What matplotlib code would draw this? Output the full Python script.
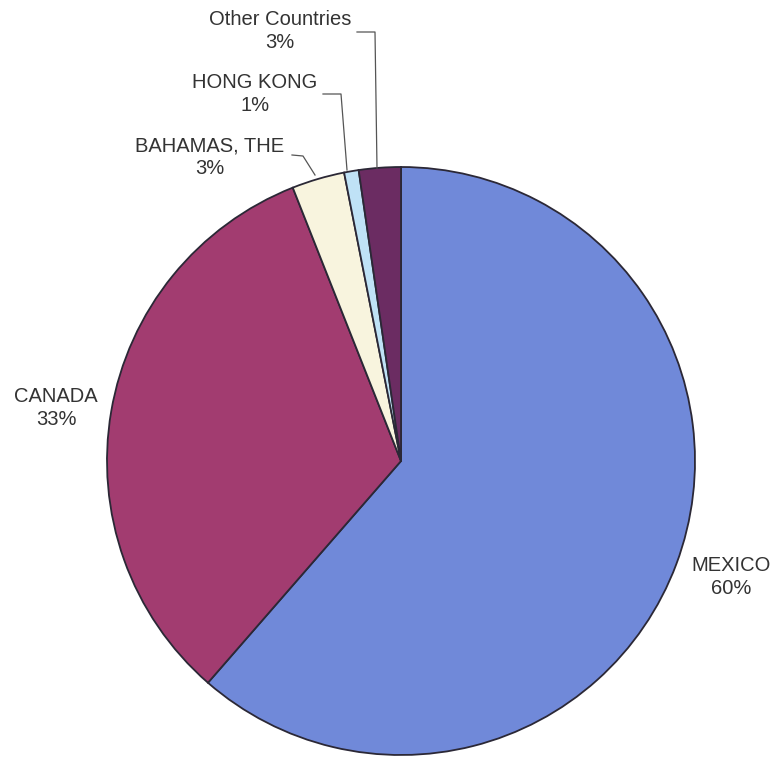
import matplotlib.pyplot as plt

# slice shares (clockwise from 12 o'clock)
countries = ['MEXICO', 'CANADA', 'BAHAMAS, THE', 'HONG KONG', 'Other Countries']
shares = [61.4, 32.6, 2.9, 0.8, 2.3]
pct_labels = ['60%', '33%', '3%', '1%', '3%']
colors = ['#7089d9', '#a23c70', '#f8f4de', '#bfe2f6', '#6b2c62']

W, H = 777, 759
fig = plt.figure(figsize=(W / 100, H / 100), dpi=100)
ax = fig.add_axes([0, 0, 1, 1])

cx, cy, r = 401, H - 461, 294
ax.pie(shares, colors=colors, startangle=90, counterclock=False,
       center=(cx, cy), radius=r, frame=True,
       wedgeprops=dict(edgecolor='#2b2836', linewidth=1.3))
ax.set_xlim(0, W)
ax.set_ylim(0, H)
ax.set_aspect('equal')
ax.axis('off')

# label positions (pixel coords, top-down)
label_pos = [(731, 577), (56, 408), (210, 157), (255, 94), (280, 31)]
for name, pct, (x, y) in zip(countries, pct_labels, label_pos):
    ax.text(x, H - y, name + '\n' + pct, ha='center', va='center',
            fontsize=14.5, color='#333333', linespacing=1.25,
            family=['Liberation Sans', 'DejaVu Sans'])

# leader lines for the small slices
leaders = [
    [(292, 155), (303, 156), (315, 175)],
    [(323, 94), (341, 94), (347, 170)],
    [(357, 32), (375, 32), (377, 168)],
]
for pts in leaders:
    xs = [p[0] for p in pts]
    ys = [H - p[1] for p in pts]
    ax.plot(xs, ys, color='#555555', linewidth=0.9)

fig.savefig('out.png', dpi=100, facecolor='white')
